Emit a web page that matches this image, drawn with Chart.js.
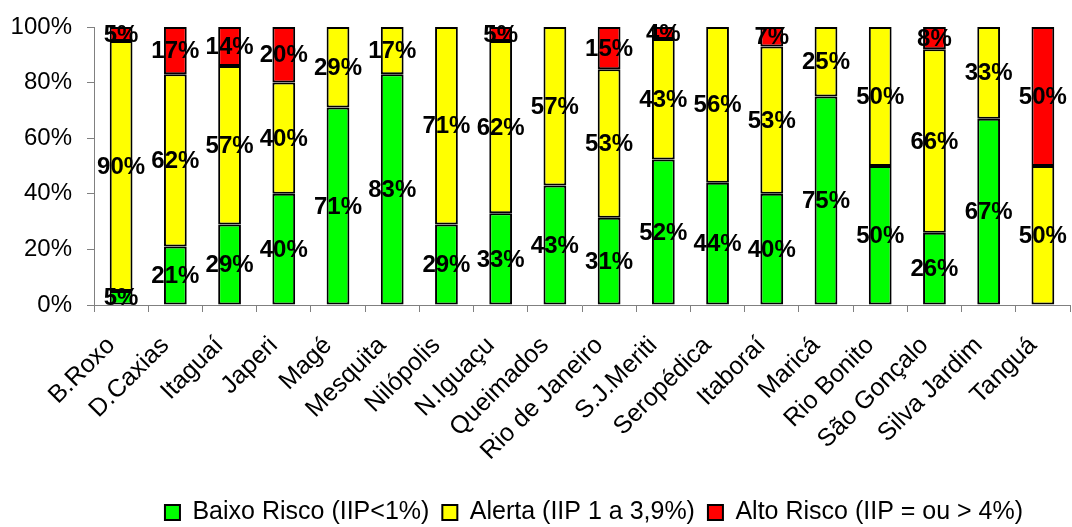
<!DOCTYPE html>
<html>
<head>
<meta charset="utf-8">
<script src="https://cdn.jsdelivr.net/npm/chart.js@4"></script>
<style>
  html, body { margin: 0; padding: 0; background: #ffffff; }
  #wrap { width: 1072px; height: 527px; }
</style>
</head>
<body>
<div id="wrap"><canvas id="c" width="1072" height="527"></canvas></div>
<script>
const categories = ["B.Roxo", "D.Caxias", "Itaguaí", "Japeri", "Magé", "Mesquita", "Nilópolis", "N.Iguaçu", "Queimados", "Rio de Janeiro", "S.J.Meriti", "Seropédica", "Itaboraí", "Maricá", "Rio Bonito", "São Gonçalo", "Silva Jardim", "Tanguá"];
const baixoRisco = [5, 21, 29, 40, 71, 83, 29, 33, 43, 31.4, 52.3, 44, 40, 75, 50, 26, 67, 0];
const alerta     = [90, 62, 57, 40, 29, 17, 71, 62, 57, 53.4, 43.4, 56, 53, 25, 50, 66, 33, 50];
const altoRisco  = [5, 17, 14, 20, 0, 0, 0, 5, 0, 15.2, 4.3, 0, 7, 0, 0, 8, 0, 50];
const yTicks = [0, 20, 40, 60, 80, 100];
const seriesNames = ["Baixo Risco (IIP<1%)", "Alerta (IIP 1 a 3,9%)", "Alto Risco (IIP = ou > 4%)"];

const FONT = "'Liberation Sans', Arial, Helvetica, sans-serif";

const valueLabels = {
  id: 'valueLabels',
  afterDatasetsDraw(chart) {
    const ctx = chart.ctx;
    ctx.save();
    ctx.font = "bold 24px " + FONT;
    ctx.fillStyle = '#000000';
    ctx.textAlign = 'center';
    ctx.textBaseline = 'middle';
    chart.data.datasets.forEach((ds, di) => {
      const meta = chart.getDatasetMeta(di);
      meta.data.forEach((el, i) => {
        const v = ds.data[i];
        if (!v) return;
        const p = el.getProps(['x', 'y', 'base'], true);
        ctx.fillText(Math.round(v) + '%', p.x, (p.y + p.base) / 2 + 1);
      });
    });
    ctx.restore();
  }
};

const shiftLegend = {
  id: 'shiftLegend',
  afterLayout(chart) {
    const l = chart.legend;
    if (l) { l.left += 12; l.right += 12; }
  }
};

const mk = (label, data, color) => ({
  label, data,
  backgroundColor: color,
  borderColor: '#000000',
  borderWidth: 2,
  borderSkipped: false,
  barPercentage: 0.42,
  categoryPercentage: 1.0
});

new Chart(document.getElementById('c'), {
  type: 'bar',
  data: {
    labels: categories,
    datasets: [
      mk(seriesNames[0], baixoRisco, '#00FF00'),
      mk(seriesNames[1], alerta, '#FFFF00'),
      mk(seriesNames[2], altoRisco, '#FF0000')
    ]
  },
  options: {
    responsive: false,
    animation: false,
    devicePixelRatio: 1,
    layout: { padding: { top: 27, right: 2, left: 0, bottom: -8 } },
    plugins: {
      legend: {
        position: 'bottom',
        fullSize: false,
        labels: {
          font: { family: FONT, size: 25 },
          color: '#000000',
          boxWidth: 15,
          boxHeight: 15,
          padding: 13
        }
      },
      tooltip: { enabled: false }
    },
    scales: {
      x: {
        stacked: true,
        offset: true,
        grid: { offset: true, drawOnChartArea: false, drawTicks: true, tickLength: 7, color: '#808080' },
        border: { display: true, color: '#808080', width: 1 },
        ticks: {
          autoSkip: false,
          maxRotation: 45, minRotation: 45,
          padding: 19,
          labelOffset: -10,
          font: { family: FONT, size: 25 },
          color: '#000000'
        },
        afterFit(scale) {
          scale.height = 182;
          scale.paddingLeft = 0; scale.paddingRight = 0;
          scale.paddingTop = 0; scale.paddingBottom = 0;
        }
      },
      y: {
        stacked: true,
        min: 0, max: 100,
        afterBuildTicks(scale) { scale.ticks = yTicks.map(v => ({ value: v })); },
        grid: { drawOnChartArea: false, drawTicks: true, tickLength: 7, color: '#808080' },
        border: { display: true, color: '#808080', width: 1 },
        ticks: {
          padding: 15,
          font: { family: FONT, size: 24 },
          color: '#000000',
          callback: v => v + '%'
        },
        afterFit(scale) {
          scale.width = 94;
          scale.paddingTop = 0; scale.paddingBottom = 0;
          scale.paddingLeft = 0; scale.paddingRight = 0;
        }
      }
    }
  },
  plugins: [valueLabels, shiftLegend]
});
</script>
</body>
</html>
